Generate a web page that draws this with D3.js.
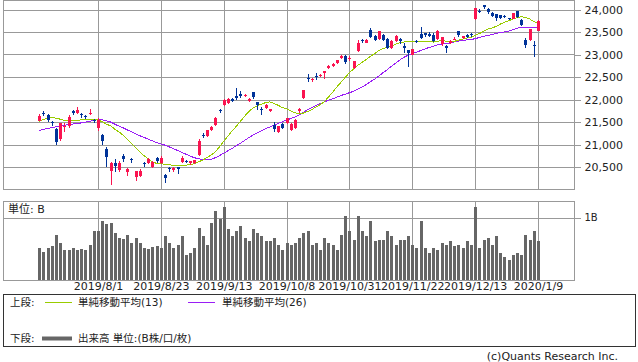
<!DOCTYPE html>
<html>
<head>
<meta charset="utf-8">
<script src="https://cdn.jsdelivr.net/npm/d3@7"></script>
<style>
  html, body { margin: 0; padding: 0; background: #fff; }
  svg { display: block; }
  text { font-family: "DejaVu Sans", "Noto Sans CJK JP", sans-serif; fill: #222; }
</style>
</head>
<body>
<script>
// trading days shown on the chart
const dates = [
  "2019/7/11","2019/7/12","2019/7/16","2019/7/17","2019/7/18","2019/7/19","2019/7/22","2019/7/23","2019/7/24","2019/7/25","2019/7/26","2019/7/29","2019/7/30","2019/7/31",
  "2019/8/1","2019/8/2","2019/8/5","2019/8/6","2019/8/7","2019/8/8","2019/8/9","2019/8/13","2019/8/14","2019/8/15","2019/8/16","2019/8/19","2019/8/20","2019/8/21","2019/8/22",
  "2019/8/23","2019/8/26","2019/8/27","2019/8/28","2019/8/29","2019/8/30","2019/9/2","2019/9/3","2019/9/4","2019/9/5","2019/9/6","2019/9/9","2019/9/10","2019/9/11","2019/9/12",
  "2019/9/13","2019/9/17","2019/9/18","2019/9/19","2019/9/20","2019/9/24","2019/9/25","2019/9/26","2019/9/27","2019/9/30","2019/10/1","2019/10/2","2019/10/3","2019/10/4","2019/10/7",
  "2019/10/8","2019/10/9","2019/10/10","2019/10/11","2019/10/15","2019/10/16","2019/10/17","2019/10/18","2019/10/21","2019/10/23","2019/10/24","2019/10/25","2019/10/28","2019/10/29","2019/10/30",
  "2019/10/31","2019/11/1","2019/11/5","2019/11/6","2019/11/7","2019/11/8","2019/11/11","2019/11/12","2019/11/13","2019/11/14","2019/11/15","2019/11/18","2019/11/19","2019/11/20","2019/11/21",
  "2019/11/22","2019/11/25","2019/11/26","2019/11/27","2019/11/28","2019/11/29","2019/12/2","2019/12/3","2019/12/4","2019/12/5","2019/12/6","2019/12/9","2019/12/10","2019/12/11","2019/12/12",
  "2019/12/13","2019/12/16","2019/12/17","2019/12/18","2019/12/19","2019/12/20","2019/12/23","2019/12/24","2019/12/25","2019/12/26","2019/12/27","2019/12/30","2020/1/6","2020/1/7","2020/1/8",
  "2020/1/9"
];

const opens = [
  21532,21700,21650,21490,21345,21120,21390,21410,21735,21700,21680,21640,21680,21540,
  21360,21220,20910,20420,20600,20440,20750,20390,20670,20280,20300,20600,20580,20490,20710,
  20590,20330,20470,20430,20490,20620,20640,20580,20590,20760,21210,21200,21330,21440,21770,
  21880,21920,22020,22080,22120,22070,21960,22160,21935,21800,21810,21740,21440,21275,21450,
  21475,21330,21370,21740,22040,22480,22440,22530,22515,22600,22700,22740,22820,22920,22960,
  22890,22700,23080,23320,23257,23550,23420,23350,23440,23340,23150,23295,23350,23200,23100,
  23000,23300,23460,23470,23460,23440,23350,23230,23200,23260,23340,23515,23360,23440,23460,
  23780,23970,24090,24020,23925,23890,23870,23850,23810,23790,23960,23770,23320,23320,23217,
  23530
];
const highs = [
  21670,21740,21680,21530,21360,21480,21475,21660,21760,21825,21700,21660,21790,21570,
  21580,21240,20940,20620,20680,20630,20780,20480,20700,20410,20450,20620,20700,20640,20730,
  20740,20340,20510,20500,20510,20750,20660,20640,20660,21120,21260,21330,21420,21610,21800,
  22020,22040,22030,22255,22190,22130,22030,22170,21950,21830,21900,21790,21500,21420,21480,
  21600,21470,21560,21820,22220,22560,22480,22590,22570,22640,22770,22810,22880,22990,22980,
  22960,22860,23330,23340,23340,23590,23430,23530,23460,23360,23320,23430,23360,23260,23110,
  23120,23320,23608,23480,23500,23480,23540,23390,23210,23320,23380,23530,23420,23460,23480,
  24023,24010,24100,24030,23940,23900,23880,23870,23820,23930,23970,23780,23365,23577,23303,
  23767
];
const lows = [
  21525,21640,21510,21420,20990,21080,21280,21370,21650,21680,21600,21560,21650,21470,
  21310,21000,20510,20110,20400,20380,20610,20300,20580,20180,20280,20500,20560,20470,20590,
  20570,20150,20400,20400,20340,20600,20580,20540,20570,20740,21140,21170,21300,21420,21690,
  21860,21900,21940,21990,22040,22050,21940,22010,21770,21660,21790,21720,21280,21260,21340,
  21450,21310,21350,21700,22020,22400,22400,22430,22500,22450,22680,22720,22800,22900,22800,
  22860,22680,23060,23250,23250,23360,23300,23330,23300,23130,23130,23280,23240,23040,22726,
  22980,23250,23350,23400,23390,23270,23330,23200,23040,23240,23320,23400,23340,23370,23390,
  23760,23930,24020,23900,23840,23740,23800,23810,23760,23780,23820,23630,23150,23300,22951,
  23520
];
const closes = [
  21644,21686,21535,21469,21046,21467,21417,21621,21710,21757,21658,21617,21709,21522,
  21541,21087,20720,20585,20517,20593,20685,20455,20655,20406,20419,20563,20677,20619,20628,
  20711,20261,20456,20479,20461,20704,20620,20625,20649,21086,21200,21318,21392,21598,21760,
  21988,22001,21961,22044,22079,22099,22020,22048,21879,21756,21885,21779,21342,21410,21375,
  21588,21456,21552,21799,22207,22473,22452,22493,22549,22625,22751,22800,22867,22974,22843,
  22927,22851,23252,23304,23330,23392,23332,23520,23320,23142,23303,23417,23293,23149,23039,
  23113,23293,23373,23438,23409,23294,23530,23380,23135,23300,23354,23431,23410,23392,23425,
  24023,23952,24066,23934,23865,23817,23821,23831,23783,23925,23838,23657,23205,23576,23205,
  23740
];

// moving averages
const ma13 = [
  21518,21556,21591,21601,21583,21563,21537,21536,21536,21537,21547,21551,21564,21555,
  21544,21509,21452,21416,21343,21280,21208,21111,21027,20930,20838,20750,20685,20614,20579,
  20578,20553,20548,20540,20522,20542,20539,20556,20573,20614,20654,20708,20766,20835,20950,
  21068,21185,21300,21403,21516,21629,21734,21808,21861,21894,21932,21946,21914,21870,21821,
  21793,21747,21707,21684,21698,21731,21775,21832,21883,21948,22056,22163,22278,22385,22491,
  22597,22678,22758,22822,22890,22959,23019,23088,23132,23158,23192,23226,23260,23277,23292,
  23281,23280,23284,23287,23293,23276,23292,23310,23297,23288,23293,23315,23343,23365,23375,
  23425,23464,23515,23564,23590,23623,23676,23717,23750,23788,23821,23841,23824,23790,23731,
  23706
];
const ma26 = [
  21310,21335,21355,21375,21395,21410,21428,21442,21455,21466,21480,21498,21515,21537,
  21550,21550,21526,21500,21453,21408,21372,21324,21282,21239,21194,21157,21120,21079,21044,
  21015,20985,20946,20910,20865,20826,20783,20743,20706,20682,20669,20661,20673,20706,20751,
  20808,20862,20911,20972,21027,21092,21154,21211,21257,21301,21349,21390,21432,21469,21503,
  21546,21575,21611,21656,21716,21770,21818,21863,21907,21947,21985,22016,22050,22089,22119,
  22152,22181,22228,22277,22332,22395,22451,22518,22594,22661,22735,22805,22876,22937,22985,
  23020,23051,23087,23123,23156,23182,23212,23234,23244,23257,23277,23296,23317,23323,23328,
  23354,23376,23404,23420,23441,23467,23487,23503,23521,23551,23582,23603,23600,23607,23598,
  23611
];

// volume, in B
const volumes = [
  0.51,0.46,0.51,0.55,0.73,0.59,0.48,0.49,0.52,0.48,0.50,0.48,0.56,0.79,
  0.78,0.94,0.89,0.92,0.76,0.67,0.66,0.73,0.60,0.68,0.59,0.51,0.50,0.53,0.54,
  0.51,0.70,0.60,0.51,0.56,0.71,0.41,0.44,0.51,0.83,0.71,0.57,0.92,1.11,0.97,
  1.16,0.81,0.70,0.78,0.86,0.68,0.62,0.81,0.76,0.70,0.62,0.63,0.68,0.57,0.48,
  0.60,0.56,0.60,0.67,0.75,0.79,0.57,0.59,0.48,0.68,0.60,0.57,0.48,0.73,1.02,
  0.78,0.65,1.02,0.78,0.71,0.95,0.62,0.64,0.64,0.79,0.71,0.57,0.64,0.65,0.70,
  0.56,0.51,0.94,0.52,0.44,0.52,0.48,0.59,0.57,0.62,0.54,0.56,0.52,0.62,0.56,
  1.16,0.52,0.64,0.67,0.56,0.70,0.44,0.38,0.32,0.40,0.44,0.41,0.73,0.64,0.79,
  0.62
];

const xTickLabels = ["2019/8/1","2019/8/23","2019/9/13","2019/10/8","2019/10/31","2019/11/22","2019/12/13","2020/1/9"];
const priceTicks = [20500, 21000, 21500, 22000, 22500, 23000, 23500, 24000];
const volumeTicks = [1];

const width = 638, height = 362;
const left = 3.5, right = 574.5;
const priceTop = 0.5, priceBottom = 189.5;
const volTop = 201.5, volBottom = 280.5;

const upColor = "#fa1450", downColor = "#003399";
const gridColor = "#999";

const svg = d3.select("body").append("svg")
    .attr("width", width)
    .attr("height", height);

const x = d3.scalePoint()
    .domain(dates)
    .range([39.3, 538]);

const y = d3.scaleLinear()
    .domain([20000, 24200])
    .range([priceBottom, priceTop]);

const yVol = d3.scaleLinear()
    .domain([0, 1.254])
    .range([volBottom, volTop]);

const px = d => Math.round(x(d)) + 0.5;

// ---- price panel ----
const price = svg.append("g").attr("shape-rendering", "crispEdges");

price.append("g")
  .selectAll("line")
  .data(priceTicks)
  .join("line")
    .attr("x1", left).attr("x2", right)
    .attr("y1", d => Math.round(y(d)) + 0.5)
    .attr("y2", d => Math.round(y(d)) + 0.5)
    .attr("stroke", gridColor);

price.append("g")
  .selectAll("line")
  .data(xTickLabels)
  .join("line")
    .attr("x1", px).attr("x2", px)
    .attr("y1", priceTop).attr("y2", priceBottom)
    .attr("stroke", gridColor);

price.append("rect")
    .attr("x", left).attr("y", priceTop)
    .attr("width", right - left).attr("height", priceBottom - priceTop)
    .attr("fill", "none").attr("stroke", gridColor);

svg.append("g")
    .attr("transform", `translate(${right},0)`)
    .call(d3.axisRight(y).tickValues(priceTicks).tickSize(6).tickPadding(4).tickFormat(d3.format(",")))
    .call(g => g.select(".domain").remove())
    .call(g => g.selectAll(".tick line").attr("stroke", gridColor).attr("shape-rendering", "crispEdges"))
    .call(g => g.selectAll("text").attr("font-size", "11px").attr("fill", "#222"))
    .attr("font-family", null);

// moving averages (aliased, like the original)
const maLine = arr => d3.line()
    .x((d, i) => x(dates[i]))
    .y(d => y(d))(arr);

svg.append("path")
    .attr("d", maLine(ma26))
    .attr("fill", "none")
    .attr("stroke", "#9a1ef5")
    .attr("shape-rendering", "crispEdges");

svg.append("path")
    .attr("d", maLine(ma13))
    .attr("fill", "none")
    .attr("stroke", "#99cc00")
    .attr("shape-rendering", "crispEdges");

// candles
const candles = svg.append("g")
    .attr("shape-rendering", "crispEdges")
  .selectAll("g")
  .data(dates.map((d, i) => ({ date: d, o: opens[i], h: highs[i], l: lows[i], c: closes[i] })))
  .join("g");

candles.append("line")
    .attr("x1", d => px(d.date)).attr("x2", d => px(d.date))
    .attr("y1", d => y(d.h)).attr("y2", d => y(d.l))
    .attr("stroke", d => d.c > d.o ? upColor : downColor);

candles.append("rect")
    .attr("x", d => Math.round(x(d.date)) - 1)
    .attr("width", 3)
    .attr("y", d => Math.min(y(d.o), y(d.c)))
    .attr("height", d => Math.max(1, Math.abs(y(d.o) - y(d.c))))
    .attr("fill", d => d.c > d.o ? upColor : downColor);

// ---- volume panel ----
const vol = svg.append("g").attr("shape-rendering", "crispEdges");

vol.append("g")
  .selectAll("line")
  .data(volumeTicks)
  .join("line")
    .attr("x1", left).attr("x2", right)
    .attr("y1", d => Math.round(yVol(d)) + 0.5)
    .attr("y2", d => Math.round(yVol(d)) + 0.5)
    .attr("stroke", gridColor);

vol.append("g")
  .selectAll("line")
  .data(xTickLabels)
  .join("line")
    .attr("x1", px).attr("x2", px)
    .attr("y1", volTop).attr("y2", volBottom)
    .attr("stroke", gridColor);

vol.append("g")
  .selectAll("rect")
  .data(volumes)
  .join("rect")
    .attr("x", (d, i) => Math.round(x(dates[i])) - 1)
    .attr("width", 3)
    .attr("y", d => yVol(d))
    .attr("height", d => volBottom - yVol(d))
    .attr("fill", "#666");

vol.append("rect")
    .attr("x", left).attr("y", volTop)
    .attr("width", right - left).attr("height", volBottom - volTop)
    .attr("fill", "none").attr("stroke", gridColor);

svg.append("text")
    .attr("x", 8).attr("y", 209)
    .attr("dy", "0.35em")
    .attr("font-size", "11px")
    .text("単位: B");

svg.append("g")
    .attr("transform", `translate(${right},0)`)
    .call(d3.axisRight(yVol).tickValues(volumeTicks).tickSize(6).tickPadding(4).tickFormat(d => d + "B"))
    .call(g => g.select(".domain").remove())
    .call(g => g.selectAll(".tick line").attr("stroke", gridColor).attr("shape-rendering", "crispEdges"))
    .call(g => g.selectAll("text").attr("font-size", "10px").attr("fill", "#222"))
    .attr("font-family", null);

// date labels under the volume panel
svg.append("g")
    .attr("transform", `translate(0,${volBottom})`)
    .call(d3.axisBottom(x).tickValues(xTickLabels).tickSize(0).tickPadding(2))
    .call(g => g.select(".domain").remove())
    .call(g => g.selectAll("text").attr("font-size", "11px").attr("fill", "#222"))
    .attr("font-family", null);

// ---- legend ----
const legend = svg.append("g");
legend.append("rect")
    .attr("x", 3.5).attr("y", 294.5)
    .attr("width", 632).attr("height", 52)
    .attr("fill", "none").attr("stroke", "#333")
    .attr("shape-rendering", "crispEdges");

const row1 = 302.5, row2 = 338.5;
const legendText = (tx, ty, s) => legend.append("text")
    .attr("x", tx).attr("y", ty).attr("dy", "0.35em")
    .attr("font-size", "10.5px").text(s);

legendText(10, row1, "上段:");
legend.append("line").attr("x1", 45).attr("x2", 72).attr("y1", row1).attr("y2", row1)
    .attr("stroke", "#99cc00");
legendText(78, row1, "単純移動平均(13)");
legend.append("line").attr("x1", 188).attr("x2", 215).attr("y1", row1).attr("y2", row1)
    .attr("stroke", "#9a1ef5");
legendText(222, row1, "単純移動平均(26)");

legendText(10, row2, "下段:");
legend.append("line").attr("x1", 42).attr("x2", 72).attr("y1", row2).attr("y2", row2)
    .attr("stroke", "#666").attr("stroke-width", 4);
legendText(78, row2, "出来高 単位:(B株/口/枚)");

svg.append("text")
    .attr("x", 618).attr("y", 356)
    .attr("dy", "0.35em")
    .attr("text-anchor", "end")
    .attr("font-size", "11px")
    .attr("fill", "#444")
    .text("(c)Quants Research Inc.");
</script>
</body>
</html>
